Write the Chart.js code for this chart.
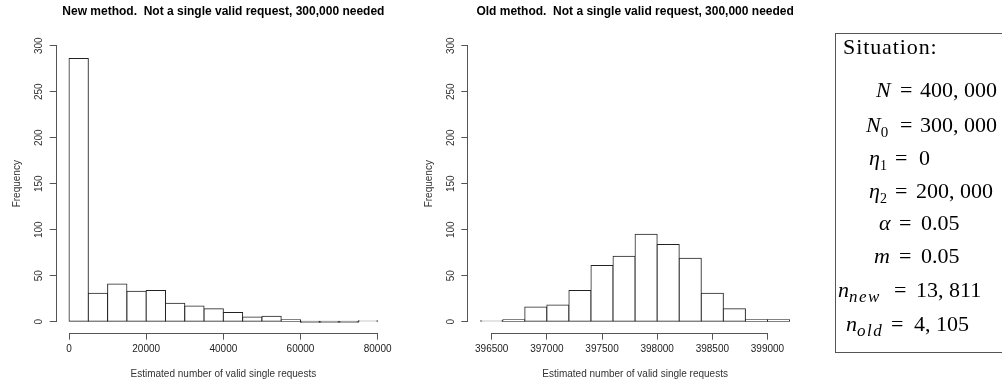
<!DOCTYPE html>
<html>
<head>
<meta charset="utf-8">
<script src="https://cdn.jsdelivr.net/npm/chart.js@4.4.1/dist/chart.umd.min.js"></script>
<style>
  html, body { margin: 0; padding: 0; background: #fff; width: 1002px; height: 383px; overflow: hidden; }
  canvas { position: absolute; top: 0; }
  #newChart { left: 0; }
  #oldChart { left: 412px; }
  #situation { position: absolute; left: 0; top: 0; }
</style>
</head>
<body>
<canvas id="newChart" width="400" height="383"></canvas>
<canvas id="oldChart" width="400" height="383"></canvas>
<svg id="situation" width="1002" height="383" font-family="Liberation Serif" font-size="22" fill="#000">
  <rect x="835.5" y="33.5" width="300" height="319" fill="none" stroke="#555" stroke-width="1"/>
  <text x="843" y="54" letter-spacing="0.9">Situation:</text>

  <text x="876" y="97" font-style="italic">N</text>
  <text x="900" y="97">=</text>
  <text x="920" y="97">400, 000</text>

  <text x="866" y="132"><tspan font-style="italic">N</tspan><tspan font-size="15" dy="4.5">0</tspan></text>
  <text x="900" y="132">=</text>
  <text x="920" y="132">300, 000</text>

  <text x="869" y="165"><tspan font-style="italic">η</tspan><tspan font-size="14" dy="4.5">1</tspan></text>
  <text x="895" y="165">=</text>
  <text x="919" y="165">0</text>

  <text x="869" y="198"><tspan font-style="italic">η</tspan><tspan font-size="14" dy="4.5">2</tspan></text>
  <text x="895" y="198">=</text>
  <text x="916" y="198">200, 000</text>

  <text x="879" y="230" font-style="italic">α</text>
  <text x="899" y="230">=</text>
  <text x="921" y="230">0.05</text>

  <text x="874" y="263" font-style="italic">m</text>
  <text x="899" y="263">=</text>
  <text x="921" y="263">0.05</text>

  <text x="838" y="297"><tspan font-style="italic">n</tspan><tspan font-style="italic" font-size="17" dy="4.5" letter-spacing="1.5">new</tspan></text>
  <text x="894" y="297">=</text>
  <text x="916" y="297">13, 811</text>

  <text x="846" y="331"><tspan font-style="italic">n</tspan><tspan font-style="italic" font-size="17" dy="4.5" letter-spacing="1.5">old</tspan></text>
  <text x="891" y="331">=</text>
  <text x="914" y="331">4, 105</text>
</svg>
<script>
// ---- data ----
const newBinStarts = [0, 5000, 10000, 15000, 20000, 25000, 30000, 35000, 40000, 45000, 50000, 55000, 60000, 65000, 70000, 75000];
const newBinWidth = 5000;
const newCounts = [286, 31, 41, 33, 34, 20, 17, 14, 10, 5, 6, 2, 0, 0, 0, 1];
const newXTicks = [0, 20000, 40000, 60000, 80000];

const oldBinStarts = [396400, 396600, 396800, 397000, 397200, 397400, 397600, 397800, 398000, 398200, 398400, 398600, 398800, 399000];
const oldBinWidth = 200;
const oldCounts = [1, 2, 16, 18, 34, 61, 71, 95, 84, 69, 31, 14, 2, 2];
const oldXTicks = [396500, 397000, 397500, 398000, 398500, 399000];

const freqTicks = [0, 50, 100, 150, 200, 250, 300];
const freqRange = [0, 300];

const newTitle = 'New method.  Not a single valid request, 300,000 needed';
const oldTitle = 'Old method.  Not a single valid request, 300,000 needed';
const xTitle = 'Estimated number of valid single requests';
const yTitle = 'Frequency';

Chart.defaults.font.family = 'Liberation Sans, Arial, sans-serif';

// R-style axis lines: drawn only from the first to the last tick
const rAxes = {
  id: 'rAxes',
  afterDatasetsDraw(chart) {
    const { ctx, chartArea, scales: { x, y } } = chart;
    const xt = x.ticks, yt = y.ticks;
    ctx.save();
    ctx.strokeStyle = '#555';
    ctx.lineWidth = 1;
    ctx.beginPath();
    const ax = Math.round(chartArea.left) - 0.5;
    const y0 = Math.round(y.getPixelForValue(yt[0].value) - 0.5) + 0.5;
    const y1 = Math.round(y.getPixelForValue(yt[yt.length - 1].value) - 0.5) + 0.5;
    ctx.moveTo(ax, y0); ctx.lineTo(ax, y1);
    const ay = Math.round(chartArea.bottom) + 0.5;
    const x0 = Math.round(x.getPixelForValue(xt[0].value) - 0.5) + 0.5;
    const x1 = Math.round(x.getPixelForValue(xt[xt.length - 1].value) - 0.5) + 0.5;
    ctx.moveTo(x0, ay); ctx.lineTo(x1, ay);
    ctx.stroke();
    ctx.restore();
  }
};

function histogram(id, title, starts, width, counts, xTicks, yAxisWidth, padRight) {
  const lo = starts[0], hi = starts[starts.length - 1] + width;
  const xExt = (hi - lo) * 0.04;
  const yExt = (freqRange[1] - freqRange[0]) * 0.04;
  return new Chart(document.getElementById(id), {
    type: 'bar',
    data: {
      datasets: [{
        data: starts.map((s, i) => ({ x: s + width / 2, y: counts[i] })),
        // empty bins are drawn as a flat line on the baseline, as R does
        backgroundColor: c => (c.raw && c.raw.y === 0 ? '#999' : '#ffffff'),
        borderColor: '#222',
        borderWidth: 1,
        borderSkipped: false,
        inflateAmount: 0.5,
        minBarLength: 1,
        barPercentage: 1,
        categoryPercentage: 1
      }]
    },
    options: {
      responsive: false,
      animation: false,
      devicePixelRatio: 1,
      layout: { padding: { left: 0, right: padRight, top: 0, bottom: 0 } },
      plugins: {
        legend: { display: false },
        tooltip: { enabled: false },
        title: {
          display: true, text: title, fullSize: false, color: '#000',
          font: { size: 12, weight: 'bold' },
          padding: { top: 4.5, bottom: 15.8 }
        }
      },
      scales: {
        x: {
          type: 'linear', bounds: 'data', offset: false,
          min: lo - xExt, max: hi + xExt,
          afterBuildTicks: s => { s.ticks = xTicks.map(v => ({ value: v })); },
          afterFit: s => { s.height = 50.3; },
          grid: { offset: false, drawOnChartArea: false, drawTicks: true, tickLength: 7, color: '#555', lineWidth: 1 },
          border: { display: false },
          ticks: { autoSkip: false, maxRotation: 0, minRotation: 0, padding: 4, color: '#222', font: { size: 10 }, callback: v => String(v) },
          title: { display: true, text: xTitle, color: '#333', font: { size: 10 }, padding: { top: 0, bottom: 3 } }
        },
        y: {
          type: 'linear', bounds: 'data',
          min: freqRange[0] - yExt, max: freqRange[1] + yExt,
          afterBuildTicks: s => { s.ticks = freqTicks.map(v => ({ value: v })); },
          afterFit: s => { s.width = yAxisWidth; },
          grid: { drawOnChartArea: false, drawTicks: true, tickLength: 7, color: '#555', lineWidth: 1 },
          border: { display: false },
          ticks: { autoSkip: false, minRotation: 90, maxRotation: 90, crossAlign: 'center', padding: 2, color: '#333', font: { size: 10 }, callback: v => String(v) },
          title: { display: true, text: yTitle, color: '#333', font: { size: 10 }, padding: { top: 11, bottom: 0 } }
        }
      }
    },
    plugins: [rAxes]
  });
}

histogram('newChart', newTitle, newBinStarts, newBinWidth, newCounts, newXTicks, 56.7, 10);
histogram('oldChart', oldTitle, oldBinStarts, oldBinWidth, oldCounts, oldXTicks, 56.3, 10.1);
</script>
</body>
</html>
